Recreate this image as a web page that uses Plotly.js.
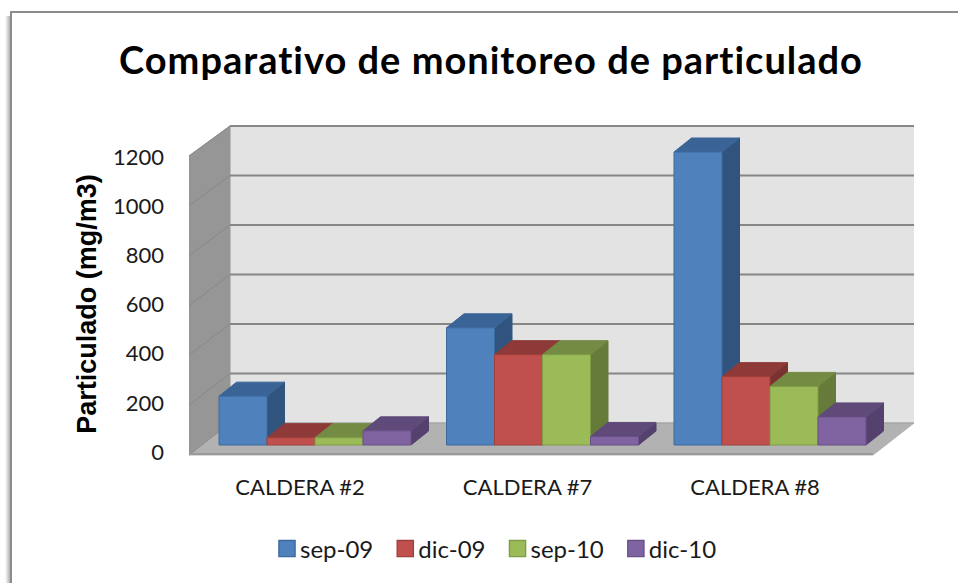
<!DOCTYPE html>
<html>
<head>
<meta charset="utf-8">
<script src="https://cdn.plot.ly/plotly-3.0.1.min.js"></script>
<style>
html,body{margin:0;padding:0;background:#fff;overflow:hidden}
svg text{font-variant-ligatures:none}
.gtitle{letter-spacing:1px}
.legend .legendpoints path{transform:translate(27px,0) scale(1.35)}
</style>
</head>
<body>
<div id="chart" style="width:958px;height:583px"></div>
<script>
// ---- data ----
const categories = ["CALDERA #2", "CALDERA #7", "CALDERA #8"];
const seriesNames = ["sep-09", "dic-09", "sep-10", "dic-10"];
const sep09 = [200, 480, 1200];
const dic09 = [30, 370, 280];
const sep10 = [30, 370, 240];
const dic10 = [58, 35, 115];
const tickValues = [0, 200, 400, 600, 800, 1000, 1200];
const frontColors = ["#4f81bd", "#c0504d", "#9bbb59", "#8064a2"];
const edgeColors  = ["#3d6a9e", "#a03f3d", "#7f9c45", "#684f88"];
const topColors   = ["#3a6496", "#8e3a38", "#748b43", "#5f4a79"];
const sideColors  = ["#31547f", "#7a3230", "#667a3a", "#55416d"];

const W = 958, H = 583;
const allSeries = [sep09, dic09, sep10, dic10];

// plot rectangle on the page
const pxL = 189, pxR = 914, pxT = 110, pxB = 498;
// category scale: label centres
const cat0 = 300, catStep = 227.5;
const xRange = [(pxL - cat0) / catStep, (pxR - cat0) / catStep];
// value scales
const kLabel = 295 / 1200, y0Label = 452;   // tick-label axis
const kBar = 293 / 1200, y0Bar = 445;       // front plane of the bars
const labelRange = [(y0Label - pxB) / kLabel, (y0Label - pxT) / kLabel];
const barRange = [(y0Bar - pxB) / kBar, (y0Bar - pxT) / kBar];
// 3-D offsets
const depthX = 17.5 / catStep, depthV = 14 / kBar;
const barW = 48 / catStep, groupShift = 15 / catStep;

const px2x = p => (p - cat0) / catStep;
const px2lab = p => (y0Label - p) / kLabel;
// wall geometry, in tick-axis units
const wallFront = v => px2lab(455 - v * 299 / 1200);
const wallBack = v => px2lab(423 - v * 297 / 1200);
const xFrontL = px2x(189), xBackL = px2x(230), xFrontR = px2x(873), xBackR = px2x(914);
const topV = tickValues[tickValues.length - 1];

function poly(xs, ys, color, yaxis, lineColor) {
  return {type: "scatter", mode: "lines", x: xs.concat(xs[0]), y: ys.concat(ys[0]),
    fill: "toself", fillcolor: color, line: {color: lineColor || color, width: 1},
    yaxis: yaxis, xaxis: "x", hoverinfo: "skip", showlegend: false};
}
function seg(xs, ys, color, width, yaxis) {
  return {type: "scatter", mode: "lines", x: xs, y: ys, line: {color: color, width: width},
    yaxis: yaxis, xaxis: "x", hoverinfo: "skip", showlegend: false};
}

const traces = [];
// walls and floor (bottom subplot, which also carries the tick labels)
traces.push(poly([xBackL, xBackR, xBackR, xBackL], [wallBack(0), wallBack(0), wallBack(topV), wallBack(topV)], "#e3e3e3", "y"));
traces.push(poly([xFrontL, xBackL, xBackL, xFrontL], [wallFront(0), wallBack(0), wallBack(topV), wallFront(topV)], "#969696", "y"));
traces.push(poly([xFrontL, xFrontR, xBackR, xBackL], [wallFront(0), wallFront(0), wallBack(0), wallBack(0)], "#b2b2b2", "y"));
tickValues.forEach(v => {
  traces.push(seg([xBackL, xBackR], [wallBack(v), wallBack(v)], v === 0 ? "#a0a0a0" : "#868686", v === 0 ? 1 : 2, "y"));
  traces.push(seg([xFrontL, xBackL], [wallFront(v), wallBack(v)], "#888888", 1, "y"));
});
traces.push(seg([xFrontL, xFrontR], [wallFront(0) + 4, wallFront(0) + 4], "#9a9a9a", 2, "y"));
traces.push(seg([xFrontL, xFrontL], [wallFront(0), wallFront(topV)], "#8e8e8e", 1, "y"));

// side and top faces, left to right, computed from the values
categories.forEach((c, i) => {
  allSeries.forEach((vals, s) => {
    const v = vals[i];
    const cx = i + groupShift + (s - 1.5) * barW;
    const L = cx - barW / 2, R = cx + barW / 2;
    traces.push(poly([R, R + depthX, R + depthX, R], [0, depthV, v + depthV, v], sideColors[s], "y2"));
    traces.push(poly([L, R, R + depthX, L + depthX], [v, v, v + depthV, v + depthV], topColors[s], "y2"));
  });
});

// front faces: real bars in the top subplot
allSeries.forEach((vals, s) => {
  traces.push({type: "bar", name: seriesNames[s], x: categories.map((c, i) => i + groupShift), y: vals,
    marker: {color: frontColors[s], line: {color: edgeColors[s], width: 1}}, yaxis: "y3", xaxis: "x",
    hovertemplate: "%{y}<extra>" + seriesNames[s] + "</extra>"});
});

const shapes = [];
// shadow on the left of the frame
[[10, .55], [9, .42], [8, .3], [7, .18], [6, .09]].forEach(a => {
  shapes.push({type: "line", xref: "paper", yref: "paper", x0: a[0] / W, x1: a[0] / W, y0: 0, y1: 1 - 16 / H,
    line: {color: "rgba(90,90,90," + a[1] + ")", width: 1}, layer: "below"});
});
// frame
shapes.push({type: "line", xref: "paper", yref: "paper", x0: 11 / W, x1: 11 / W, y0: 0, y1: 1 - 12 / H, line: {color: "#8c8c8c", width: 2}, layer: "below"});
shapes.push({type: "line", xref: "paper", yref: "paper", x0: 10 / W, x1: 1, y0: 1 - 12 / H, y1: 1 - 12 / H, line: {color: "#8c8c8c", width: 2}, layer: "below"});

const layout = {
  width: W, height: H,
  margin: {l: 0, r: 0, t: 0, b: 0, pad: 0},
  paper_bgcolor: "#ffffff", plot_bgcolor: "rgba(0,0,0,0)",
  font: {family: "Lato, sans-serif", color: "#1a1a1a"},
  title: {text: "Comparativo de monitoreo de particulado", x: 491 / W, xanchor: "center", y: 1 - 61 / H, yanchor: "middle",
    font: {family: "Lato, sans-serif", size: 38, color: "#000000", weight: 700}},
  barmode: "group", bargap: 1 - 4 * barW, bargroupgap: 0,
  xaxis: {domain: [pxL / W, pxR / W], range: xRange, tickmode: "array", tickvals: categories.map((c, i) => i), ticktext: categories,
    showgrid: false, zeroline: false, showline: false, ticks: "", anchor: "free", position: 1 - 472 / H,
    tickfont: {size: 22, color: "#1a1a1a"}, automargin: false},
  yaxis: {domain: [1 - pxB / H, 1 - pxT / H], range: labelRange, tickmode: "array", tickvals: tickValues,
    showgrid: false, zeroline: false, showline: false, ticks: "", ticklabelstandoff: 24, tickfont: {size: 22, color: "#1a1a1a"},
    automargin: false,
    title: {text: "Particulado (mg/m3)", standoff: 8, font: {family: "'Liberation Sans', Arial, sans-serif", size: 27, color: "#000000", weight: 700}}},
  yaxis2: {overlaying: "y", range: barRange, visible: false, side: "left"},
  yaxis3: {overlaying: "y", range: barRange, visible: false, side: "left"},
  showlegend: true,
  legend: {orientation: "h", x: 491 / W, xanchor: "center", y: 1 - 549 / H, yanchor: "middle",
    font: {size: 24, color: "#1a1a1a"}, bgcolor: "rgba(0,0,0,0)", traceorder: "normal"},
  shapes: shapes
};
Plotly.newPlot("chart", traces, layout, {displayModeBar: false, responsive: false});
</script>
</body>
</html>
